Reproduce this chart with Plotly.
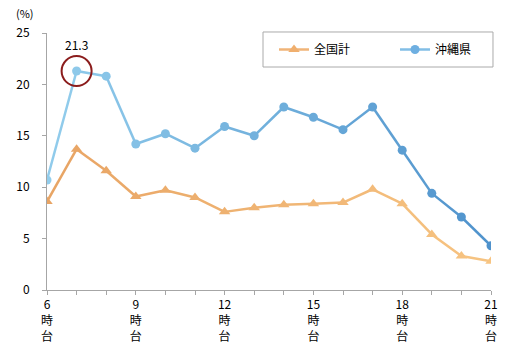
import plotly.graph_objects as go

hours = list(range(6, 22))
national = [8.6, 13.7, 11.6, 9.1, 9.7, 9.0, 7.6, 8.0, 8.3, 8.4, 8.5, 9.8, 8.4, 5.4, 3.3, 2.8]
okinawa = [10.7, 21.3, 20.8, 14.2, 15.2, 13.8, 15.9, 15.0, 17.8, 16.8, 15.6, 17.8, 13.6, 9.4, 7.1, 4.3]
tick_vals = [6, 9, 12, 15, 18, 21]
tick_text = ["6<br>時<br>台", "9<br>時<br>台", "12<br>時<br>台", "15<br>時<br>台", "18<br>時<br>台", "21<br>時<br>台"]
series_names = ["全国計", "沖縄県"]
peak_label = "21.3"

FONT = "Noto Sans CJK JP, sans-serif"


def lerp(c1, c2, t):
    return "rgb(%d,%d,%d)" % tuple(round(a + (b - a) * t) for a, b in zip(c1, c2))


fig = go.Figure()

blue_start, blue_end = (146, 205, 236), (79, 146, 204)
orange_start, orange_end = (232, 164, 100), (247, 196, 130)

n = len(hours)
for vals, c1, c2 in [(national, orange_start, orange_end), (okinawa, blue_start, blue_end)]:
    for i in range(n - 1):
        t = (i + 0.5) / (n - 1)
        fig.add_trace(go.Scatter(x=hours[i:i + 2], y=vals[i:i + 2], mode="lines",
                                 line=dict(color=lerp(c1, c2, t), width=2.5),
                                 showlegend=False, hoverinfo="skip"))

fig.add_trace(go.Scatter(x=hours, y=national, mode="markers", name=series_names[0],
                         marker=dict(symbol="triangle-up", size=10,
                                     color=[lerp(orange_start, orange_end, i / (n - 1)) for i in range(n)]),
                         showlegend=False))
fig.add_trace(go.Scatter(x=hours, y=okinawa, mode="markers", name=series_names[1],
                         marker=dict(symbol="circle", size=9,
                                     color=[lerp(blue_start, blue_end, i / (n - 1)) for i in range(n)]),
                         showlegend=False))

# legend entries
fig.add_trace(go.Scatter(x=[None], y=[None], mode="lines+markers", name=series_names[0],
                         line=dict(color="rgb(240,180,120)", width=2.5),
                         marker=dict(symbol="triangle-up", size=10, color="rgb(240,175,110)")))
fig.add_trace(go.Scatter(x=[None], y=[None], mode="lines+markers", name=series_names[1],
                         line=dict(color="rgb(130,190,230)", width=2.5),
                         marker=dict(symbol="circle", size=9, color="rgb(110,175,225)")))

# legend frame
fig.add_shape(type="rect", xref="paper", yref="paper", x0=0.4865, x1=1.0045, y0=0.8677, y1=1.0039,
              line=dict(color="#aaaaaa", width=1), fillcolor="white", layer="below")

fig.add_shape(type="circle", xref="x", yref="y", xsizemode="pixel", ysizemode="pixel",
              xanchor=hours[1], yanchor=okinawa[1], x0=-15, x1=15, y0=-15, y1=15,
              line=dict(color="#8b1c1c", width=2))
fig.add_annotation(x=hours[1], y=okinawa[1], text=peak_label, showarrow=False,
                   yshift=27, font=dict(size=12, color="#000", family=FONT))
fig.add_annotation(xref="paper", yref="paper", x=-0.075, y=1.0, yshift=20, text="(%)",
                   showarrow=False, font=dict(size=11, color="#000", family=FONT),
                   xanchor="left", yanchor="middle")

fig.update_layout(
    width=511, height=353,
    margin=dict(l=47, r=20, t=33, b=63, autoexpand=False),
    plot_bgcolor="white", paper_bgcolor="white",
    font=dict(family=FONT, size=12, color="#000"),
    legend=dict(orientation="h", x=0.5113, y=0.9358, xanchor="left", yanchor="middle",
                borderwidth=0, bgcolor="rgba(0,0,0,0)",
                font=dict(size=12, family=FONT), itemwidth=30, entrywidth=76,
                tracegroupgap=0),
    xaxis=dict(range=[6, 21], tickvals=tick_vals, ticktext=tick_text, showgrid=False,
               zeroline=False, showline=True, linecolor="#a6a6a6", linewidth=1,
               ticks="outside", ticklen=4, tickcolor="#a6a6a6",
               minor=dict(dtick=1, ticks="outside", ticklen=4, tickcolor="#a6a6a6"),
               tickfont=dict(size=12), fixedrange=True),
    yaxis=dict(range=[0, 25], dtick=5, showgrid=False, zeroline=False, showline=True,
               linecolor="#a6a6a6", linewidth=1, ticks="outside", ticklen=4,
               tickcolor="#a6a6a6", tickfont=dict(size=12), ticklabelstandoff=10),
)

fig.write_html("out.html")
